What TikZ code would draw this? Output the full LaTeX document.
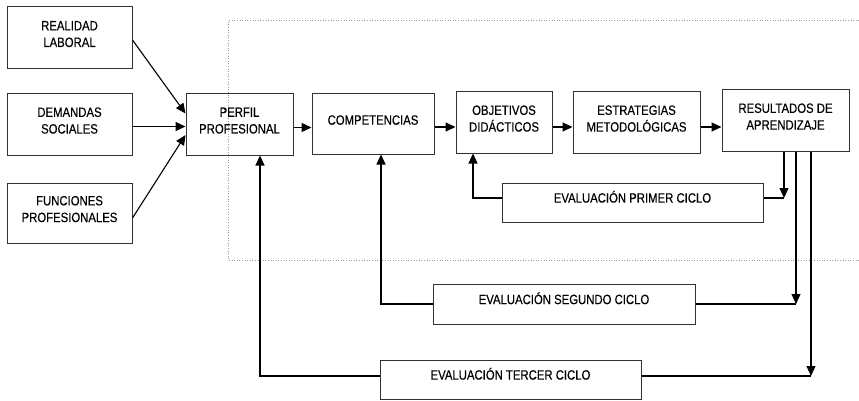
\documentclass[tikz,border=0pt]{standalone}
\usepackage{fontspec}
\setmainfont{Liberation Sans}[FakeStretch=0.84,FakeBold=0.4]
\usetikzlibrary{arrows.meta}
\begin{document}
\begin{tikzpicture}[x=1pt,y=-1pt,
  box/.style={draw=black!80, line width=1pt, rectangle, align=center,
    inner sep=0pt, text=black, font=\fontsize{13.5}{16.7}\selectfont, text depth=8pt},
  evbox/.style={box, text depth=11.5pt},
  arr/.style={-{Triangle[length=10pt,width=9pt]}, line width=1.1pt, black},
  ln/.style={line width=1.1pt, black},
  frame/.style={dotted, black!40, line width=0.6pt}]
\useasboundingbox (0,0) rectangle (859,401);
% dotted frame
\draw[frame] (859,20.5) -- (228.5,20.5) -- (228.5,260.5) -- (859,260.5);
% nodes
\node[box, minimum width=125pt, minimum height=62pt] (real) at (69.5,38) {REALIDAD\\LABORAL};
\node[box, minimum width=125pt, minimum height=61pt] (dem) at (69.5,124.5) {DEMANDAS\\SOCIALES};
\node[box, minimum width=125pt, minimum height=60pt] (func) at (69.5,213) {FUNCIONES\\PROFESIONALES};
\node[box, minimum width=107pt, minimum height=61pt] (perf) at (239.5,124.5) {PERFIL\\PROFESIONAL};
\node[box, minimum width=122pt, minimum height=60pt] (comp) at (373,124) {COMPETENCIAS};
\node[box, minimum width=96pt, minimum height=61pt] (obj) at (504,122.5) {OBJETIVOS\\DIDÁCTICOS};
\node[box, minimum width=127pt, minimum height=61pt] (estr) at (636.5,122.5) {ESTRATEGIAS\\METODOLÓGICAS};
\node[box, minimum width=127pt, minimum height=61pt] (res) at (785.5,120.5) {RESULTADOS DE\\APRENDIZAJE};
\node[evbox, minimum width=261pt, minimum height=39pt] (ev1) at (632.5,202.5) {EVALUACIÓN PRIMER CICLO};
\node[evbox, minimum width=262pt, minimum height=40pt] (ev2) at (564,304) {EVALUACIÓN SEGUNDO CICLO};
\node[evbox, minimum width=261pt, minimum height=39pt] (ev3) at (510.5,379.5) {EVALUACIÓN TERCER CICLO};
% inputs to perfil
\draw[arr] ([yshift=-2pt]real.east) -- ([yshift=11pt]perf.west);
\draw[arr] ([yshift=-2pt]dem.east) -- ([yshift=-2pt]perf.west);
\draw[arr] ([yshift=-5pt]func.east) -- ([yshift=-10.5pt]perf.west);
% main chain
\draw[arr] ([yshift=-3pt]perf.east) -- ([yshift=-3pt]perf.east -| comp.west);
\draw[arr] ([yshift=-3pt]comp.east) -- ([yshift=-3pt]comp.east -| obj.west);
\draw[arr] ([yshift=-4.5pt]obj.east) -- ([yshift=-4.5pt]obj.east -| estr.west);
\draw[arr] ([yshift=-4.5pt]estr.east) -- ([yshift=-4.5pt]estr.east -| res.west);
% feedback loops
\coordinate (c1) at (784,198);
\coordinate (u1) at (473,198);
\coordinate (c2) at (796,304);
\coordinate (u2) at (381,304);
\coordinate (c3) at (811,376);
\coordinate (u3) at (260,376);
\draw[arr] (res.south -| c1) -- (c1);
\draw[ln] (ev1.east |- c1) -- (c1);
\draw[arr] (ev1.west |- u1) -- (u1) -- (u1 |- obj.south);
\draw[arr] (res.south -| c2) -- (c2);
\draw[ln] (ev2.east |- c2) -- (c2);
\draw[arr] (ev2.west |- u2) -- (u2) -- (u2 |- comp.south);
\draw[arr] (res.south -| c3) -- (c3);
\draw[ln] (ev3.east |- c3) -- (c3);
\draw[arr] (ev3.west |- u3) -- (u3) -- (u3 |- perf.south);
\end{tikzpicture}
\end{document}
